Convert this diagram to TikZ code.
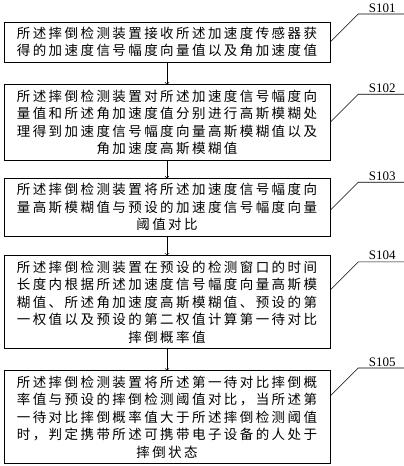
\documentclass[tikz,border=0pt]{standalone}
\usepackage{fontspec}
\setmainfont{Liberation Serif}
\newfontfamily\cjk[LetterSpace=18]{Noto Sans CJK SC}
\usetikzlibrary{positioning}

\begin{document}
\begin{tikzpicture}[x=1pt,y=1pt,line width=0.6pt,node distance=20pt,
  stepbox/.style={draw,minimum width=326pt,inner ysep=5pt,align=center,
    font=\cjk\fontsize{13.5}{17.5}\selectfont},
  steplabel/.style={anchor=south,inner sep=1.5pt,font=\fontsize{13}{15}\selectfont}]
   \useasboundingbox (0,0) rectangle (404,-466);
   \coordinate (rim) at (404,0);
   \node[stepbox] (s1) at (167,-42)
     {所述摔倒检测装置接收所述加速度传感器获\\得的加速度信号幅度向量值以及角加速度值};
   \node[stepbox] (s2) [below=22pt of s1]
     {所述摔倒检测装置对所述加速度信号幅度向\\量值和所述角加速度值分别进行高斯模糊处\\理得到加速度信号幅度向量高斯模糊值以及\\角加速度高斯模糊值};
   \node[stepbox] (s3) [below=18pt of s2]
     {所述摔倒检测装置将所述加速度信号幅度向\\量高斯模糊值与预设的加速度信号幅度向量\\阈值对比};
   \node[stepbox] (s4) [below=19pt of s3]
     {所述摔倒检测装置在预设的检测窗口的时间\\长度内根据所述加速度信号幅度向量高斯模\\糊值、所述角加速度高斯模糊值、预设的第\\一权值以及预设的第二权值计算第一待对比\\摔倒概率值};
   \node[stepbox] (s5) [below=22pt of s4]
     {所述摔倒检测装置将所述第一待对比摔倒概\\率值与预设的摔倒检测阈值对比，当所述第\\一待对比摔倒概率值大于所述摔倒检测阈值\\时，判定携带所述可携带电子设备的人处于\\摔倒状态};
    \path[->]
    (s1) edge (s2)
    (s2) edge (s3)
    (s3) edge (s4)
    (s4) edge (s5);
   \foreach \i/\dy in {1/0,2/0,3/-3,4/12,5/21} {
     \draw ([yshift=\dy pt]s\i.east) -- ++(28,28) coordinate (k\i) -- (k\i -| rim);
     \node[steplabel] (l\i) at ([xshift=24pt]k\i) {S10\i};
   }
\end{tikzpicture}
\end{document}
